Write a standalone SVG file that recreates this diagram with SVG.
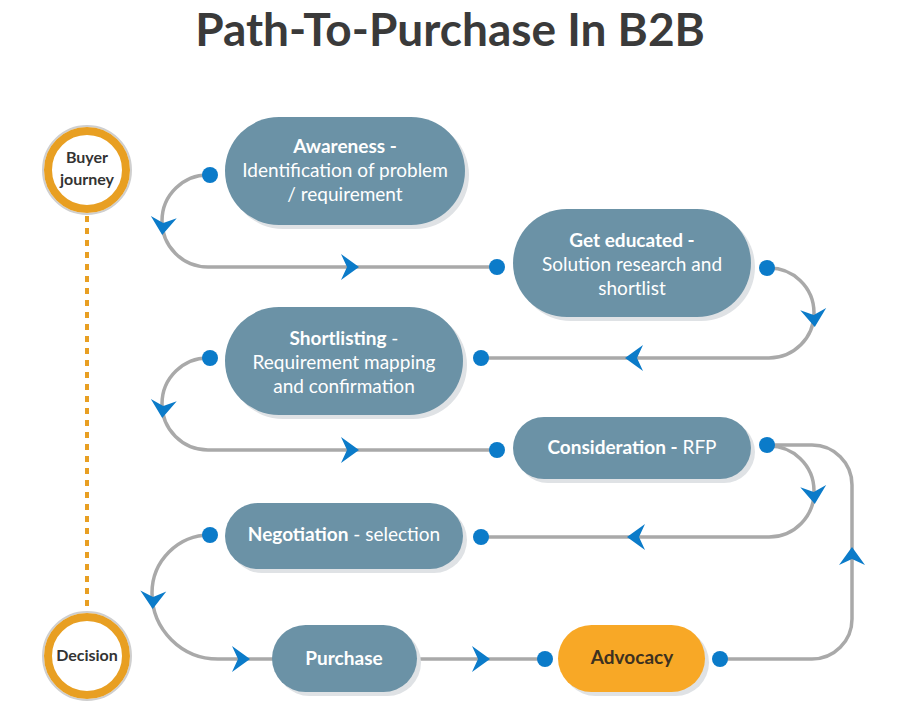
<svg xmlns="http://www.w3.org/2000/svg" width="900" height="716" viewBox="0 0 900 716">
<defs>
<style>
.box{fill:#6b92a6}
.shadow{fill:#dfe2e5}
.adv{fill:#f8a826}
.line{fill:none;stroke:#a9a9a9;stroke-width:3.5}
.dot{fill:#0b7bc9}
.arr{fill:#0b7bc9}
.t{font-family:Lato,"Open Sans",sans-serif;fill:#ffffff;font-size:19px;text-anchor:middle}
.b{font-weight:700}
.ct{font-family:Lato,"Open Sans",sans-serif;fill:#333333;font-size:16px;font-weight:700;text-anchor:middle}
.ring{fill:#ffffff;stroke:#e89f22;stroke-width:8}
.ringo{fill:none;stroke:#cfcfcf;stroke-width:2}
</style>
<path id="ar" d="M-9,-13 L9,0 L-9,13 L-3,0 Z"/>
</defs>
<rect width="900" height="716" fill="#ffffff"/>
<text x="450" y="46" font-family="Lato,'Open Sans',sans-serif" font-size="46" font-weight="700" fill="#3a3a3a" text-anchor="middle">Path-To-Purchase In B2B</text>

<g id="timeline">
<line x1="87" y1="216" x2="87" y2="612" stroke="#e89f22" stroke-width="4" stroke-dasharray="6,6"/>
</g>

<g id="connectors">
<path class="line" d="M210,175 A46,46 0 0 0 162,221 A46,46 0 0 0 208,267 L497,267"/>
<path class="line" d="M767,268 A45,45 0 0 1 814,313 A45,45 0 0 1 769,358 L481,358"/>
<path class="line" d="M210,358 A46,46 0 0 0 162,404 A46,46 0 0 0 208,450 L497,450"/>
<path class="line" d="M767,446 A45,45 0 0 1 814,491 A45,45 0 0 1 769,537 L481,537"/>
<path class="line" d="M767,445 L812,445 A40,40 0 0 1 852,485 L852,619 A40,40 0 0 1 812,659 L720,659"/>
<path class="line" d="M210,535 A58,58 0 0 0 152,593 A66,66 0 0 0 218,659 L545,659"/>
<use href="#ar" class="arr" transform="translate(350,267)"/>
<use href="#ar" class="arr" transform="translate(163,226) rotate(95)"/>
<use href="#ar" class="arr" transform="translate(814,318) rotate(85)"/>
<use href="#ar" class="arr" transform="translate(634,358) rotate(180)"/>
<use href="#ar" class="arr" transform="translate(163,409) rotate(95)"/>
<use href="#ar" class="arr" transform="translate(350,450)"/>
<use href="#ar" class="arr" transform="translate(814,495) rotate(85)"/>
<use href="#ar" class="arr" transform="translate(636,537) rotate(180)"/>
<use href="#ar" class="arr" transform="translate(852,556) rotate(-90)"/>
<use href="#ar" class="arr" transform="translate(153,600) rotate(92)"/>
<use href="#ar" class="arr" transform="translate(241,659)"/>
<use href="#ar" class="arr" transform="translate(481,659)"/>
</g>

<g id="buyer-journey">
<circle cx="87" cy="170" r="44" class="ringo"/>
<circle cx="87" cy="170" r="39" class="ring"/>
<text class="ct" x="87" y="163">Buyer</text>
<text class="ct" x="87" y="185">journey</text>
</g>

<g id="decision">
<circle cx="87" cy="656" r="44" class="ringo"/>
<circle cx="87" cy="656" r="39" class="ring"/>
<text class="ct" x="87" y="661">Decision</text>
</g>

<g id="awareness">
<rect class="shadow" x="229" y="121" width="240" height="108" rx="54"/>
<rect class="box" x="225" y="117" width="240" height="108" rx="54"/>
<text class="t b" x="345" y="153">Awareness -</text>
<text class="t" x="345" y="177">Identification of problem</text>
<text class="t" x="345" y="201">/ requirement</text>
<circle class="dot" cx="210" cy="175" r="8"/>
</g>

<g id="get-educated">
<rect class="shadow" x="517" y="213" width="238" height="108" rx="54"/>
<rect class="box" x="513" y="209" width="238" height="108" rx="54"/>
<text class="t b" x="632" y="247">Get educated -</text>
<text class="t" x="632" y="271">Solution research and</text>
<text class="t" x="632" y="295">shortlist</text>
<circle class="dot" cx="497" cy="267" r="8"/>
<circle class="dot" cx="767" cy="268" r="8"/>
</g>

<g id="shortlisting">
<rect class="shadow" x="229" y="311" width="238" height="108" rx="54"/>
<rect class="box" x="225" y="307" width="238" height="108" rx="54"/>
<text class="t" x="344" y="345"><tspan class="b">Shortlisting</tspan> -</text>
<text class="t" x="344" y="369">Requirement mapping</text>
<text class="t" x="344" y="393">and confirmation</text>
<circle class="dot" cx="210" cy="358" r="8"/>
<circle class="dot" cx="481" cy="358" r="8"/>
</g>

<g id="consideration">
<rect class="shadow" x="517" y="421" width="238" height="62" rx="31"/>
<rect class="box" x="513" y="417" width="238" height="62" rx="31"/>
<text class="t" x="632" y="454"><tspan class="b">Consideration -</tspan> RFP</text>
<circle class="dot" cx="497" cy="450" r="8"/>
<circle class="dot" cx="767" cy="445" r="8"/>
</g>

<g id="negotiation">
<rect class="shadow" x="229" y="507" width="238" height="66" rx="33"/>
<rect class="box" x="225" y="503" width="238" height="66" rx="33"/>
<text class="t" x="344" y="541"><tspan class="b">Negotiation</tspan> - selection</text>
<circle class="dot" cx="210" cy="535" r="8"/>
<circle class="dot" cx="481" cy="537" r="8"/>
</g>

<g id="purchase">
<rect class="shadow" x="276" y="629" width="145" height="67" rx="33.5"/>
<rect class="box" x="272" y="625" width="145" height="67" rx="33.5"/>
<text class="t b" x="344" y="665">Purchase</text>
</g>

<g id="advocacy">
<rect class="shadow" x="562" y="629" width="147" height="67" rx="33.5"/>
<rect class="adv" x="558" y="625" width="147" height="67" rx="33.5"/>
<text class="t b" x="632" y="664" style="fill:#3d3120">Advocacy</text>
<circle class="dot" cx="545" cy="659" r="8"/>
<circle class="dot" cx="720" cy="659" r="8"/>
</g>
</svg>
